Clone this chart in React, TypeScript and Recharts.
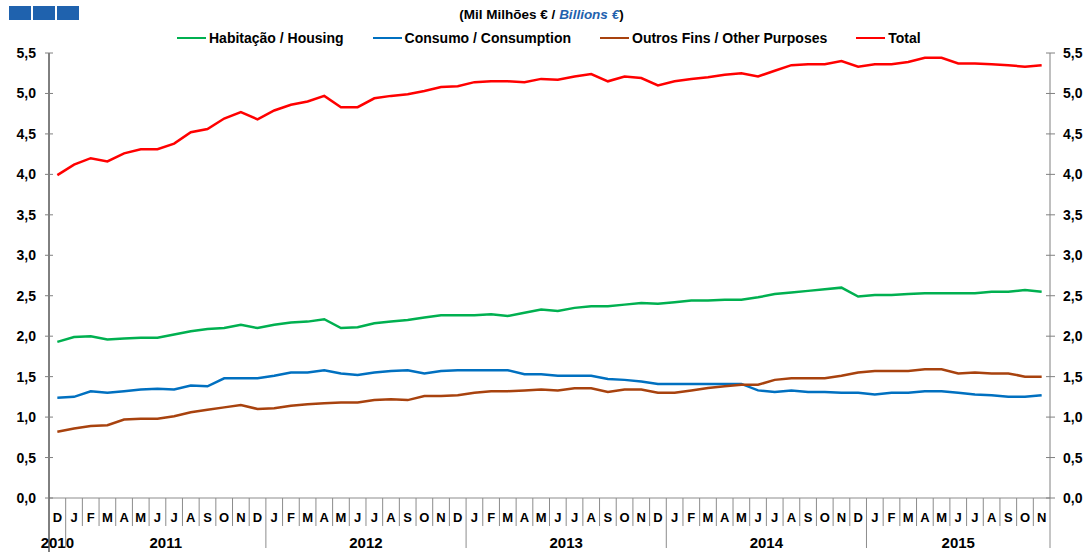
import React from "react";
import { LineChart, Line, XAxis, YAxis } from "recharts";

// months of each year shown on the axis (Dec 2010 - Nov 2015)
const yearMonths: [string, string[]][] = [
  ["2010", ["D"]],
  ["2011", ["J", "F", "M", "A", "M", "J", "J", "A", "S", "O", "N", "D"]],
  ["2012", ["J", "F", "M", "A", "M", "J", "J", "A", "S", "O", "N", "D"]],
  ["2013", ["J", "F", "M", "A", "M", "J", "J", "A", "S", "O", "N", "D"]],
  ["2014", ["J", "F", "M", "A", "M", "J", "J", "A", "S", "O", "N", "D"]],
  ["2015", ["J", "F", "M", "A", "M", "J", "J", "A", "S", "O", "N"]],
];

const housing = [
  1.93, 1.99, 2.0, 1.96, 1.97, 1.98, 1.98, 2.02, 2.06, 2.09, 2.1, 2.14, 2.1,
  2.14, 2.17, 2.18, 2.21, 2.1, 2.11, 2.16, 2.18, 2.2, 2.23, 2.26, 2.26, 2.26,
  2.27, 2.25, 2.29, 2.33, 2.31, 2.35, 2.37, 2.37, 2.39, 2.41, 2.4, 2.42, 2.44,
  2.44, 2.45, 2.45, 2.48, 2.52, 2.54, 2.56, 2.58, 2.6, 2.49, 2.51, 2.51, 2.52,
  2.53, 2.53, 2.53, 2.53, 2.55, 2.55, 2.57, 2.55,
];

const consumption = [
  1.24, 1.25, 1.32, 1.3, 1.32, 1.34, 1.35, 1.34, 1.39, 1.38, 1.48, 1.48, 1.48,
  1.51, 1.55, 1.55, 1.58, 1.54, 1.52, 1.55, 1.57, 1.58, 1.54, 1.57, 1.58, 1.58,
  1.58, 1.58, 1.53, 1.53, 1.51, 1.51, 1.51, 1.47, 1.46, 1.44, 1.41, 1.41, 1.41,
  1.41, 1.41, 1.41, 1.33, 1.31, 1.33, 1.31, 1.31, 1.3, 1.3, 1.28, 1.3, 1.3,
  1.32, 1.32, 1.3, 1.28, 1.27, 1.25, 1.25, 1.27,
];

const otherPurposes = [
  0.82, 0.86, 0.89, 0.9, 0.97, 0.98, 0.98, 1.01, 1.06, 1.09, 1.12, 1.15, 1.1,
  1.11, 1.14, 1.16, 1.17, 1.18, 1.18, 1.21, 1.22, 1.21, 1.26, 1.26, 1.27, 1.3,
  1.32, 1.32, 1.33, 1.34, 1.33, 1.355, 1.355, 1.31, 1.34, 1.34, 1.3, 1.3, 1.33,
  1.36, 1.38, 1.4, 1.4, 1.46, 1.48, 1.48, 1.48, 1.51, 1.55, 1.57, 1.57, 1.57,
  1.59, 1.59, 1.54, 1.55, 1.54, 1.54, 1.5, 1.5,
];

const total = [
  3.99, 4.12, 4.2, 4.16, 4.26, 4.31, 4.31, 4.38, 4.52, 4.56, 4.69, 4.77, 4.68,
  4.79, 4.86, 4.9, 4.97, 4.83, 4.83, 4.94, 4.97, 4.99, 5.03, 5.08, 5.09, 5.14,
  5.15, 5.15, 5.14, 5.18, 5.17, 5.21, 5.24, 5.15, 5.21, 5.19, 5.1, 5.15, 5.18,
  5.2, 5.23, 5.25, 5.21, 5.28, 5.35, 5.36, 5.36, 5.4, 5.33, 5.36, 5.36, 5.39,
  5.44, 5.44, 5.37, 5.37, 5.36, 5.35, 5.33, 5.35,
];

const yTicks = [0, 0.5, 1, 1.5, 2, 2.5, 3, 3.5, 4, 4.5, 5, 5.5];

const series = [
  { key: "housing", name: "Habitação / Housing", color: "#00B050" },
  { key: "consumption", name: "Consumo / Consumption", color: "#0070C0" },
  { key: "other", name: "Outros Fins / Other Purposes", color: "#A8420E" },
  { key: "total", name: "Total", color: "#FF0000" },
];

const FONT = '"Liberation Sans", Arial, sans-serif';

type Row = {
  id: string;
  m: string;
  yearStart: boolean;
  yearLabel?: string;
  yearOnBoundary?: boolean;
  housing: number;
  consumption: number;
  other: number;
  total: number;
};

const rows: Row[] = [];
yearMonths.forEach(([year, ms]) => {
  const start = rows.length;
  ms.forEach((m, j) => {
    const i = rows.length;
    rows.push({
      id: `${year}-${j}`,
      m,
      yearStart: j === 0,
      housing: housing[i],
      consumption: consumption[i],
      other: otherPurposes[i],
      total: total[i],
    });
  });
  const n = ms.length;
  if (n % 2 === 1) {
    rows[start + (n - 1) / 2].yearLabel = year;
  } else {
    rows[start + n / 2].yearLabel = year;
    rows[start + n / 2].yearOnBoundary = true;
  }
});

const MonthTick = (props: any) => {
  const { x, y, index, payload } = props;
  const row = rows[index];
  if (!row) return null;
  const half = payload && payload.offset ? payload.offset : 8.34;
  const left = x - half;
  const right = x + half;
  let bottom = 526;
  if (row.yearStart) bottom = 548;
  if (index === 0) bottom = 552;
  return (
    <g>
      <line
        x1={left}
        y1={y}
        x2={left}
        y2={bottom}
        stroke={index === 0 ? "#000" : "#8c8c8c"}
        strokeWidth={1}
      />
      {index === rows.length - 1 && (
        <line x1={right} y1={y} x2={right} y2={548} stroke="#8c8c8c" />
      )}
      <text
        x={x}
        y={y + 24}
        textAnchor="middle"
        fontFamily={FONT}
        fontWeight="bold"
        fontSize={13}
        fill="#000"
      >
        {row.m}
      </text>
      {row.yearLabel && (
        <text
          x={row.yearOnBoundary ? left : x}
          y={y + 50}
          textAnchor="middle"
          fontFamily={FONT}
          fontWeight="bold"
          fontSize={15}
          fill="#000"
        >
          {row.yearLabel}
        </text>
      )}
    </g>
  );
};

const fmt = (v: number) => v.toFixed(1).replace(".", ",");

const LeftTick = (props: any) => {
  const { x, y, payload } = props;
  return (
    <g>
      <line x1={x - 4} y1={y} x2={x + 4} y2={y} stroke="#808080" />
      <text
        x={x - 13}
        y={y + 5}
        textAnchor="end"
        fontFamily={FONT}
        fontWeight="bold"
        fontSize={14}
        fill="#000"
      >
        {fmt(payload.value)}
      </text>
    </g>
  );
};

const RightTick = (props: any) => {
  const { x, y, payload } = props;
  return (
    <g>
      <line x1={x - 4} y1={y} x2={x + 5} y2={y} stroke="#808080" />
      <text
        x={x + 13}
        y={y + 5}
        textAnchor="start"
        fontFamily={FONT}
        fontWeight="bold"
        fontSize={14}
        fill="#000"
      >
        {fmt(payload.value)}
      </text>
    </g>
  );
};

export default function App() {
  return (
    <div
      style={{
        position: "absolute",
        left: 0,
        top: 0,
        width: 1090,
        height: 552,
        background: "#fff",
        fontFamily: FONT,
        overflow: "hidden",
      }}
    >
      {/* logo squares */}
      <div style={{ position: "absolute", left: 9, top: 6, display: "flex", gap: 2 }}>
        {[0, 1, 2].map((k) => (
          <div key={k} style={{ width: 22, height: 14, background: "#1F62AE" }} />
        ))}
      </div>

      <div
        style={{
          position: "absolute",
          left: 0,
          top: 7,
          width: 1083,
          textAlign: "center",
          fontWeight: "bold",
          fontSize: 13.5,
          color: "#000",
        }}
      >
        (Mil Milhões € /{" "}
        <span style={{ color: "#1F62AE", fontStyle: "italic" }}>Billions €</span>)
      </div>

      {/* legend */}
      <div
        style={{
          position: "absolute",
          left: 177,
          top: 30,
          display: "flex",
          alignItems: "center",
          gap: 29,
          fontWeight: "bold",
          fontSize: 14,
          color: "#000",
          whiteSpace: "nowrap",
        }}
      >
        {series.map((s) => (
          <div key={s.key} style={{ display: "flex", alignItems: "center" }}>
            <div style={{ width: 29, height: 2.5, background: s.color, marginRight: 3 }} />
            <span>{s.name}</span>
          </div>
        ))}
      </div>

      <div style={{ position: "absolute", left: 0, top: 0 }}>
        <LineChart
          width={1090}
          height={552}
          data={rows}
          margin={{ top: 53, right: 0, bottom: 0, left: 0 }}
        >
          <XAxis
            dataKey="id"
            scale="band"
            interval={0}
            height={54}
            tickSize={0}
            tickMargin={0}
            tick={<MonthTick />}
            axisLine={{ stroke: "#8c8c8c" }}
            tickLine={false}
          />
          <YAxis
            yAxisId="l"
            width={49}
            domain={[0, 5.5]}
            ticks={yTicks}
            interval={0}
            tickSize={0}
            tickMargin={0}
            tick={<LeftTick />}
            tickLine={false}
            axisLine={{ stroke: "#000" }}
          />
          <YAxis
            yAxisId="r"
            orientation="right"
            width={40}
            domain={[0, 5.5]}
            ticks={yTicks}
            interval={0}
            tickSize={0}
            tickMargin={0}
            tick={<RightTick />}
            tickLine={false}
            axisLine={{ stroke: "#808080" }}
          />
          {series.map((s) => (
            <Line
              key={s.key}
              yAxisId={s.key === "total" ? "r" : "l"}
              type="linear"
              dataKey={s.key}
              name={s.name}
              stroke={s.color}
              strokeWidth={2.5}
              dot={false}
              isAnimationActive={false}
            />
          ))}
        </LineChart>
      </div>
    </div>
  );
}
